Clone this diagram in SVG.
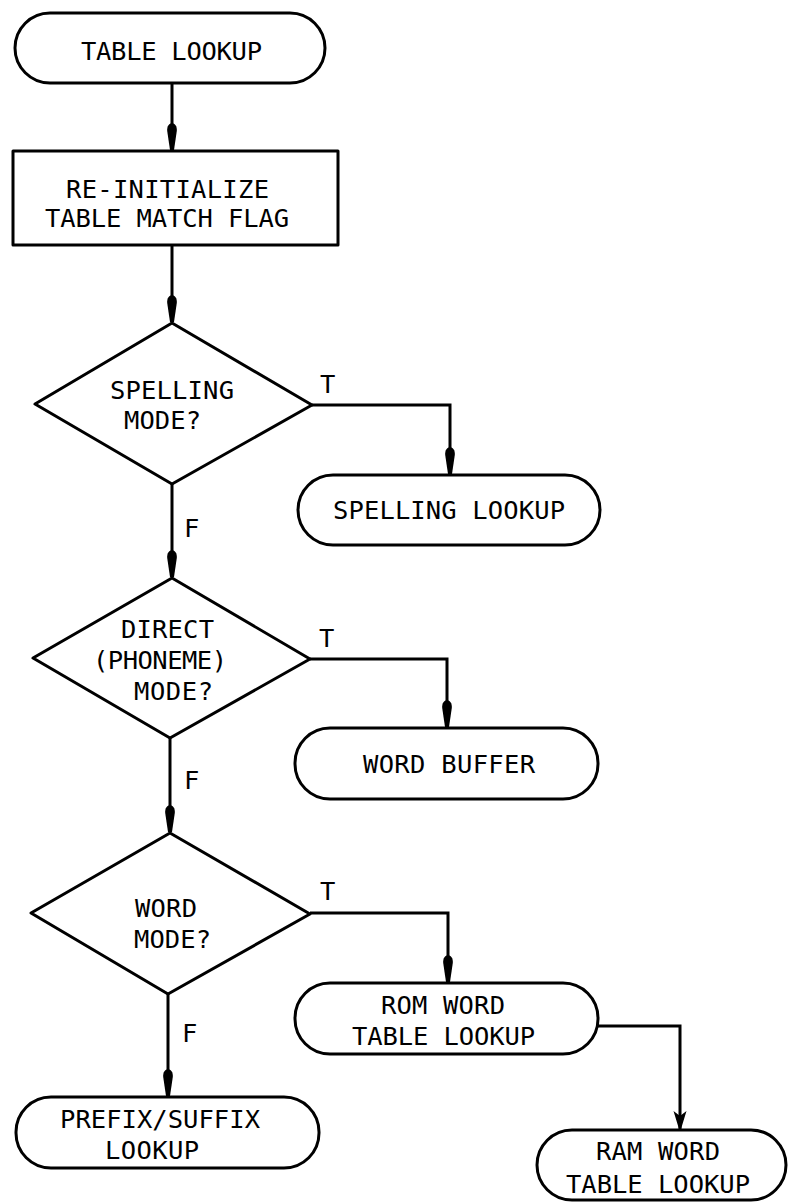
<svg xmlns="http://www.w3.org/2000/svg" width="788" height="1203" viewBox="0 0 788 1203">
<style>
.shape{fill:#fff;stroke:#000;stroke-width:3;stroke-linejoin:round}
.conn{fill:none;stroke:#000;stroke-width:3;stroke-linejoin:miter}
text{font-family:"DejaVu Sans Mono","Liberation Mono",monospace;font-size:25.5px;fill:#000}
</style>
<defs>
<marker id="tear" markerUnits="userSpaceOnUse" markerWidth="40" markerHeight="20" viewBox="-30 -10 32 20" refX="0" refY="0" orient="auto">
<path d="M-27,0 C-26,-4.5 -22,-5 -19,-4.8 L0,-2 L0,2 L-19,4.8 C-22,5 -26,4.5 -27,0 Z" fill="#000"/>
</marker>
<marker id="vee" markerUnits="userSpaceOnUse" markerWidth="40" markerHeight="20" viewBox="-30 -10 32 20" refX="0" refY="0" orient="auto">
<path d="M-18,-6.5 L0,-1 L0,1 L-18,6.5 L-13,0 Z" fill="#000"/>
</marker>
</defs>

<g id="connectors">
<path class="conn" d="M172,83 L172,150" marker-end="url(#tear)"/>
<path class="conn" d="M172,245 L172,322" marker-end="url(#tear)"/>
<path class="conn" d="M312,405 L450,405 L450,474" marker-end="url(#tear)"/>
<path class="conn" d="M172,484 L172,577" marker-end="url(#tear)"/>
<path class="conn" d="M310,659 L447,659 L447,727" marker-end="url(#tear)"/>
<path class="conn" d="M170,738 L170,832" marker-end="url(#tear)"/>
<path class="conn" d="M310,913 L448,913 L448,982" marker-end="url(#tear)"/>
<path class="conn" d="M168,994 L168,1096" marker-end="url(#tear)"/>
<path class="conn" d="M598,1026 L680,1026 L680,1129" marker-end="url(#vee)"/>
<text x="320" y="393">T</text>
<text x="184" y="537">F</text>
<text x="319" y="647">T</text>
<text x="184" y="789">F</text>
<text x="320" y="900">T</text>
<text x="182" y="1042">F</text>
</g>

<g id="table-lookup">
<rect class="shape" x="15" y="13" width="310" height="70" rx="35" ry="35"/>
<text x="81" y="60" textLength="181" lengthAdjust="spacing">TABLE LOOKUP</text>
</g>

<g id="reinit">
<rect class="shape" x="13" y="151" width="325" height="94"/>
<text x="66" y="198" textLength="203" lengthAdjust="spacing">RE-INITIALIZE</text>
<text x="45" y="227" textLength="244" lengthAdjust="spacing">TABLE MATCH FLAG</text>
</g>

<g id="spelling-mode">
<polygon class="shape" points="172,323 312,405 172,484 35,404"/>
<text x="110" y="399" textLength="124" lengthAdjust="spacing">SPELLING</text>
<text x="124" y="429" textLength="77" lengthAdjust="spacing">MODE?</text>
</g>

<g id="spelling-lookup">
<rect class="shape" x="298" y="475" width="302" height="70" rx="35" ry="35"/>
<text x="333" y="519" textLength="232" lengthAdjust="spacing">SPELLING LOOKUP</text>
</g>

<g id="direct-mode">
<polygon class="shape" points="172,578 310,659 170,738 33,658"/>
<text x="121" y="638" textLength="93" lengthAdjust="spacing">DIRECT</text>
<text x="93" y="669" textLength="134" lengthAdjust="spacing">(PHONEME)</text>
<text x="134" y="700" textLength="79" lengthAdjust="spacing">MODE?</text>
</g>

<g id="word-buffer">
<rect class="shape" x="295" y="728" width="303" height="71" rx="35" ry="35"/>
<text x="363" y="773" textLength="172" lengthAdjust="spacing">WORD BUFFER</text>
</g>

<g id="word-mode">
<polygon class="shape" points="170,833 310,914 168,994 31,913"/>
<text x="135" y="917" textLength="62" lengthAdjust="spacing">WORD</text>
<text x="134" y="948" textLength="77" lengthAdjust="spacing">MODE?</text>
</g>

<g id="rom-word">
<rect class="shape" x="295" y="983" width="303" height="71" rx="35" ry="35"/>
<text x="381" y="1014" textLength="124" lengthAdjust="spacing">ROM WORD</text>
<text x="352" y="1045" textLength="183" lengthAdjust="spacing">TABLE LOOKUP</text>
</g>

<g id="prefix-suffix">
<rect class="shape" x="16" y="1097" width="303" height="71" rx="35" ry="35"/>
<text x="60" y="1128" textLength="200" lengthAdjust="spacing">PREFIX/SUFFIX</text>
<text x="105" y="1159" textLength="94" lengthAdjust="spacing">LOOKUP</text>
</g>

<g id="ram-word">
<rect class="shape" x="537" y="1130" width="249" height="70" rx="35" ry="35"/>
<text x="596" y="1160" textLength="124" lengthAdjust="spacing">RAM WORD</text>
<text x="566" y="1193" textLength="184" lengthAdjust="spacing">TABLE LOOKUP</text>
</g>
</svg>
